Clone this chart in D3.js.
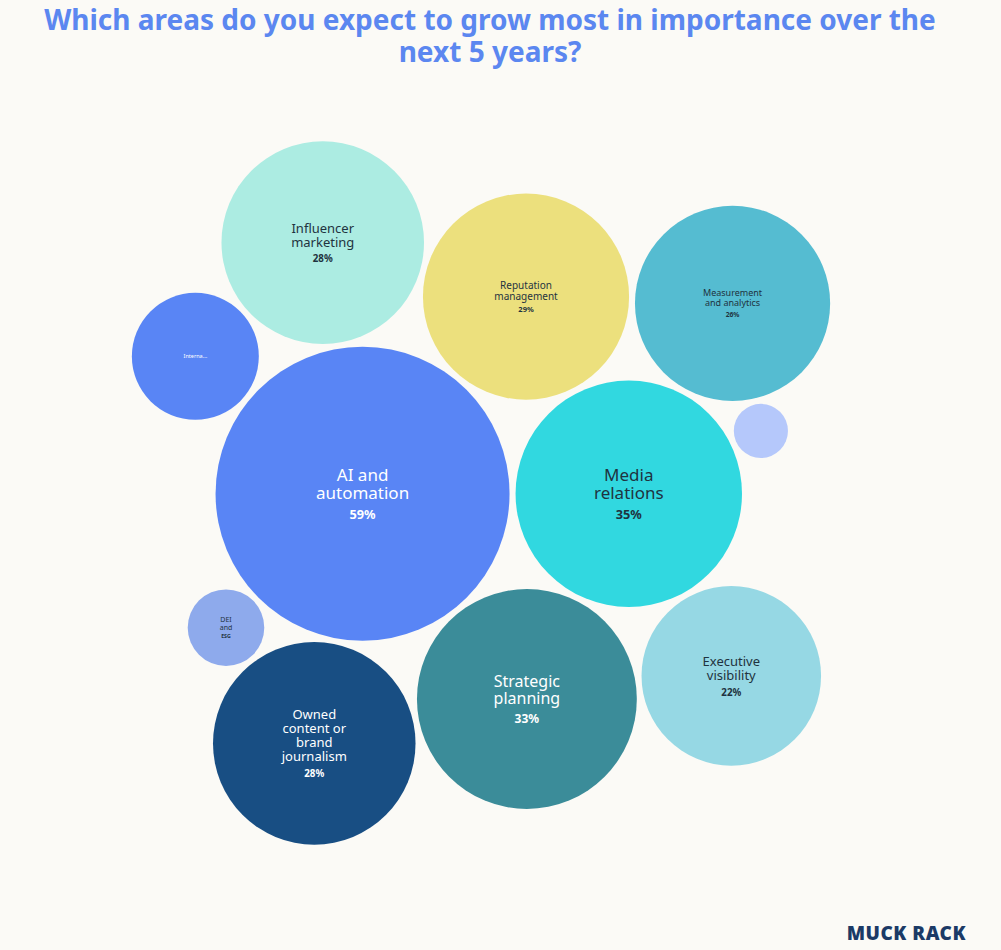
<!DOCTYPE html>
<html><head><meta charset="utf-8">
<script src="https://cdn.jsdelivr.net/npm/d3@7"></script>
<style>
body{margin:0;background:#fbfaf6;font-family:"Noto Sans",sans-serif;}
</style></head><body>
<svg id="chart" width="1001" height="950"></svg>
<script>
const names = [["AI and","automation"],["Media","relations"],["Strategic","planning"],["Reputation","management"],["Influencer","marketing"],["Owned","content or","brand","journalism"],["Measurement","and analytics"],["Executive","visibility"],["Interna..."],["DEI","and"],[]];
const values = [59,35,33,29,28,28,26,22,11,4,2];
const valueLabels = ["59%","35%","33%","29%","28%","28%","26%","22%","","ESG",""];
const colors = ["#5985f5","#31d8e0","#3b8c99","#ece07d","#acece2","#184e83","#55bcd1","#96d8e4","#5985f5","#8eaaec","#b5c8fb"];
const textColors = ["#fff","#1f3340","#fff","#1f3340","#1f3340","#fff","#1f3340","#1f3340","#fff","#1f3340","#1f3340"];
const fontSizes = [17,17,16,10,13,13,9,13,5.5,7,7];

const svg = d3.select("#chart");
svg.append("text").attr("x",490).attr("y",30).attr("text-anchor","middle")
  .attr("fill","#5b87f0").attr("font-size",28).attr("font-weight","bold")
  .text("Which areas do you expect to grow most in importance over the");
svg.append("text").attr("x",490).attr("y",62).attr("text-anchor","middle")
  .attr("fill","#5b87f0").attr("font-size",28).attr("font-weight","bold")
  .text("next 5 years?");

const r = d3.scaleSqrt().domain([0,59]).range([0,147]);
const nodes = values.map((v,i)=>({i, v, r:r(v)+3}));
d3.packSiblings(nodes);
const cx = d3.mean([d3.min(nodes,d=>d.x-d.r), d3.max(nodes,d=>d.x+d.r)]);
const cy = d3.mean([d3.min(nodes,d=>d.y-d.r), d3.max(nodes,d=>d.y+d.r)]);

const g = svg.append("g").attr("transform",`translate(${481-cx},${493-cy})`);
const node = g.selectAll("g").data(nodes).join("g").attr("transform",d=>`translate(${d.x},${d.y})`);
node.append("circle").attr("r",d=>d.r-3).attr("fill",d=>colors[d.i]);
node.each(function(d){
  const fs = fontSizes[d.i];
  const lines = names[d.i];
  const el = d3.select(this);
  const lh = fs*1.08;
  const vs = fs*0.75;
  const total = lines.length*lh + (valueLabels[d.i]?vs*1.3:0);
  let y0 = -total/2 + fs*0.8;
  lines.forEach((t,k)=>{
    el.append("text").attr("text-anchor","middle").attr("y",y0+k*lh)
      .attr("font-size",fs).attr("fill",textColors[d.i]).text(t);
  });
  if(valueLabels[d.i]) el.append("text").attr("text-anchor","middle")
      .attr("y",y0+(lines.length-1)*lh+vs*1.6).attr("font-size",vs).attr("font-weight","bold")
      .attr("fill",textColors[d.i]).text(valueLabels[d.i]);
});

svg.append("text").attr("x",966).attr("y",940).attr("text-anchor","end")
  .attr("font-size",19).attr("font-weight",900).attr("fill","#1b3a66").attr("letter-spacing",0.5)
  .text("MUCK RACK");
</script></body></html>
